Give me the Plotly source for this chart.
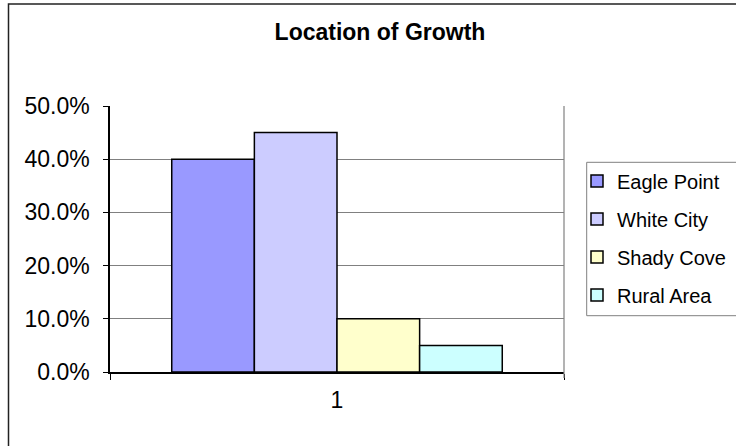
import plotly.graph_objects as go

categories = ["1"]
series_names = ["Eagle Point", "White City", "Shady Cove", "Rural Area"]
series_values = [0.40, 0.45, 0.10, 0.05]
series_colors = ["#9999FF", "#CCCCFF", "#FFFFCC", "#CCFFFF"]
y_tick_values = [0, 0.1, 0.2, 0.3, 0.4, 0.5]
title_text = "Location of Growth"

W, H = 736, 446
L, R, T, B = 110, 172, 106, 74
pw = W - L - R
ph = H - T - B


def px_x(x):
    return (x - L) / pw


def px_y(y):
    return (H - B - y) / ph


FONT = "Liberation Sans, Arial, sans-serif"

fig = go.Figure()
for n, v, c in zip(series_names, series_values, series_colors):
    fig.add_trace(go.Bar(
        x=categories, y=[v], name=n, legendgroup=n,
        marker=dict(color=c, line=dict(color="black", width=1.5)),
    ))

fig.update_layout(
    width=W, height=H,
    margin=dict(l=L, r=R, t=T, b=B, pad=0, autoexpand=False),
    paper_bgcolor="white", plot_bgcolor="white",
    font=dict(family=FONT, color="black", size=21),
    barmode="group", bargap=0.272, bargroupgap=0,
    title=dict(text=title_text, font=dict(family=FONT, size=23, weight="bold"),
               xref="container", x=380 / W, xanchor="center",
               yref="container", y=1 - 31.5 / H, yanchor="middle"),
    showlegend=True,
    legend=dict(x=px_x(577), y=px_y(161.5), xanchor="left", yanchor="top",
                xref="paper", yref="paper",
                font=dict(family=FONT, size=20), bgcolor="rgba(0,0,0,0)",
                borderwidth=0, traceorder="grouped", tracegroupgap=9),
    xaxis=dict(type="category", showline=True, linecolor="black", linewidth=1.5,
               ticks="outside", tickson="boundaries", ticklen=6, tickcolor="black",
               showgrid=False, automargin=False, ticklabelstandoff=7,
               tickfont=dict(family=FONT, size=23, color="black")),
    yaxis=dict(range=[0, 0.5], tickvals=y_tick_values, tickformat=".1%",
               showgrid=True, gridcolor="#808080", gridwidth=1,
               showline=True, linecolor="black", linewidth=1.5,
               ticks="outside", ticklen=5, tickcolor="black", automargin=False,
               zeroline=False, ticklabelstandoff=9,
               tickfont=dict(family=FONT, size=23, color="black")),
    shapes=[
        dict(type="rect", xref="paper", yref="paper",
             x0=px_x(8.5), x1=px_x(760), y0=px_y(470), y1=px_y(4),
             line=dict(color="#222222", width=1.5), fillcolor="rgba(0,0,0,0)", layer="below"),
        dict(type="line", xref="paper", yref="paper", x0=1, x1=1, y0=px_y(378), y1=1,
             line=dict(color="#808080", width=1.2)),
        dict(type="rect", xref="paper", yref="paper",
             x0=px_x(586.7), x1=px_x(745), y0=px_y(315.7), y1=px_y(162.3),
             line=dict(color="#808080", width=1), fillcolor="white", layer="below"),
    ],
)

fig.write_html("out.html")
